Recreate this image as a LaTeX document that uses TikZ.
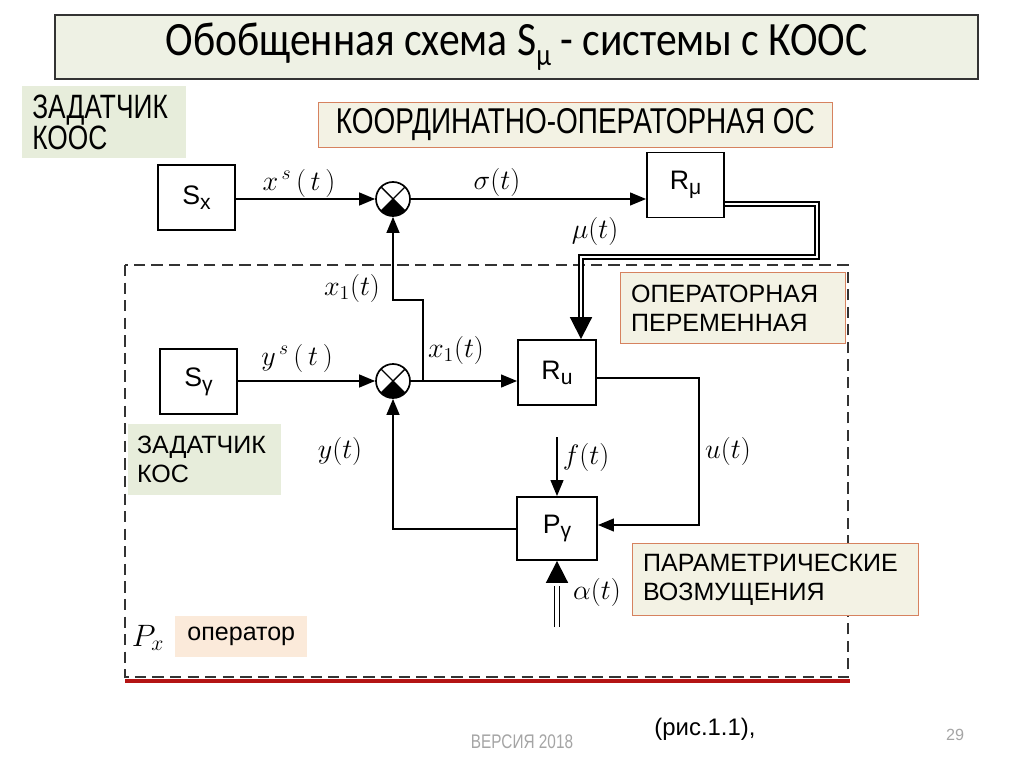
\documentclass[tikz,border=0pt]{standalone}
\usepackage{fix-cm}
\usepackage{fontspec}
\setmainfont{Liberation Sans}
\newfontfamily\titlefont[FakeStretch=0.87]{Carlito}
\newfontfamily\narrowfont[FakeStretch=0.78]{Liberation Sans}
\usetikzlibrary{arrows.meta}
\definecolor{sage}{RGB}{231,237,219}
\definecolor{titlefill}{RGB}{238,241,228}
\definecolor{creamfill}{RGB}{243,242,228}
\definecolor{peach}{RGB}{251,234,218}
\definecolor{boxedge}{RGB}{214,130,95}
\definecolor{redline}{RGB}{180,20,20}
\definecolor{footgray}{RGB}{165,165,165}
\tikzset{blk/.style = {draw, line width = 1.3pt, minimum width = 1.925cm, minimum height = 1.625cm, inner sep = 0, font = \fontsize{19}{22}\selectfont}}
\tikzset{sumjn/.style = {draw, circle, line width = 1.2pt, minimum size = 0.85cm, inner sep = 0,
  path picture = {
    \draw[line width = 1pt] (path picture bounding box.north west) -- (path picture bounding box.south east)
      (path picture bounding box.north east) -- (path picture bounding box.south west);
    \fill (path picture bounding box.center) -- (path picture bounding box.south east) -- (path picture bounding box.south west) -- cycle;}}}
\tikzset{sig/.style = {font = \fontsize{20}{24}\selectfont}}
\tikzset{wire/.style = {line width = 1.3pt}}
\tikzset{arr/.style = {wire, -{Triangle[length = 0.4cm, width = 0.32cm]}}}
\tikzset{bigarr/.style = {wire, -{Triangle[length = 0.55cm, width = 0.55cm]}}}
\tikzset{dbl/.style = {double, line width = 1.6pt, double distance = 1.4pt}}
\tikzset{dblthin/.style = {double, line width = 0.9pt, double distance = 3pt}}
\tikzset{notebox/.style = {anchor = north west, inner xsep = 0.27cm, inner ysep = 0, align = left, font = \fontsize{17.8}{20.6}\selectfont}}
\newcommand{\blksub}[1]{\raisebox{-0.35ex}{\fontsize{15}{15}\selectfont #1}}

\begin{document}
\begin{tikzpicture}[x = 0.025cm, y = -0.025cm]
      \useasboundingbox (0, 0) rectangle (1024, 767);
      \fill[white] (0, 0) rectangle (1024, 767);
      \node [draw = black!80, fill = titlefill, line width = 1.2pt, minimum width = 23.075cm, minimum height = 1.6cm,
        font = \titlefont\fontsize{34}{38}\selectfont] (title) at (516.5, 47)
        {Обобщенная схема S\raisebox{-0.45ex}{\fontsize{22}{22}\selectfont μ} - системы с КООС};

      \draw[redline, line width = 3.5pt] (125, 681) -- (850, 681);
      \draw[black!80, line width = 1.3pt, dash pattern = on 8pt off 4.5pt] (125, 265) rectangle (848, 677);

      \node [notebox, inner xsep = 0.25cm, fill = sage, text width = 3.6cm, minimum height = 1.8cm,
        font = \narrowfont\fontsize{24}{22}\selectfont] (zadkoos) at (22, 86) {ЗАДАТЧИК\\КООС};
      \node [anchor = north west, draw = boxedge, fill = creamfill, minimum width = 12.85cm, minimum height = 1.125cm, inner sep = 0,
        font = \narrowfont\fontsize{25.5}{27}\selectfont] (koos) at (318, 102) {КООРДИНАТНО-ОПЕРАТОРНАЯ ОС};
      \node [notebox, draw = boxedge, fill = creamfill, text width = 5.08cm, minimum height = 1.775cm] (opvar) at (620, 272) {ОПЕРАТОРНАЯ\\ПЕРЕМЕННАЯ};
      \node [notebox, inner xsep = 0.22cm, fill = sage, text width = 3.38cm, minimum height = 1.775cm] (zadkos) at (128, 424) {ЗАДАТЧИК\\КОС};
      \node [notebox, draw = boxedge, fill = creamfill, text width = 6.61cm, minimum height = 1.8cm] (param) at (632, 543) {ПАРАМЕТРИЧЕСКИЕ\\ВОЗМУЩЕНИЯ};
      \node [anchor = north west, fill = peach, minimum width = 3.3cm, minimum height = 1.025cm, inner sep = 0,
        font = \fontsize{17.8}{20}\selectfont] (oper) at (175, 616) {оператор};

      \node [blk] (Sx) at (196.5, 197.5) {S\blksub{x}};
      \node [blk] (Sy) at (198.5, 381.5) {S\blksub{γ}};
      \node [blk] (Rmu) at (685.5, 185) {R\blksub{μ}};
      \node [blk, minimum width = 1.95cm] (Ru) at (557, 372.5) {R\blksub{u}};
      \node [blk, minimum width = 2cm, minimum height = 1.575cm] (Py) at (557, 528.5) {P\blksub{γ}};
      \node [sumjn] (sumA) at (393, 199) {};
      \node [sumjn] (sumB) at (393, 381) {};

      \coordinate (dA) at (817, 204);
      \coordinate (dB) at (817, 257);
      \coordinate (dC) at (581, 257);
      \coordinate (dD) at (581, 320);
      \coordinate (brA) at (423, 381);
      \coordinate (brB) at (423, 300);
      \coordinate (brC) at (393, 300);
      \coordinate (uA) at (699, 378);
      \coordinate (uB) at (699, 525);
      \coordinate (yA) at (393, 529);
      \coordinate (fA) at (557, 437);
      \coordinate (aA) at (557, 627);
      \coordinate (aB) at (557, 586);

      \draw[arr] (Sx.east |- sumA) -- (sumA);
      \draw[arr] (sumA) -- (sumA -| Rmu.west);
      \draw[dbl] (Rmu.east |- dA) -- (dA) -- (dB) -- (dC) -- (dD);
      \draw[bigarr] (dD) -- (dD |- Ru.north);
      \draw[arr] (Sy.east |- sumB) -- (sumB);
      \draw[arr] (sumB) -- (sumB -| Ru.west);
      \draw[arr] (brA) -- (brB) -- (brC) -- (sumA);
      \draw[arr] (Ru.east |- uA) -- (uA) -- (uB) -- (uB -| Py.east);
      \draw[arr] (Py.west |- yA) -- (yA) -- (sumB);
      \draw[arr] (fA) -- (Py);
      \draw[dblthin] (aA) -- (aB);
      \draw[bigarr] ([yshift = 0.1cm] aB) -- (Py.south);

      \node [sig] (lxs) at (299, 183) {$x^{\,s}\,(\,t\,)$};
      \node [sig] (lsig) at (497, 182) {$\sigma(t)$};
      \node [sig] (lmu) at (595, 231) {$\mu(t)$};
      \node [sig] (lxa) at (352, 288) {$x_1(t)$};
      \node [sig] (lxb) at (456, 350) {$x_1(t)$};
      \node [sig] (lys) at (297, 358) {$y^{\,s}\,(\,t\,)$};
      \node [sig] (ly) at (340, 451) {$y(t)$};
      \node [sig] (lf) at (586, 457) {$f(t)$};
      \node [sig] (lu) at (728, 451) {$u(t)$};
      \node [sig] (lal) at (597, 592) {$\alpha(t)$};
      \node [sig, font = \fontsize{22}{24}\selectfont] (lpx) at (148, 638) {$P_x$};

      \node [font = \fontsize{17}{20}\selectfont] (fig) at (705, 729) {(рис.1.1),};
      \node [text = footgray, font = \narrowfont\fontsize{14}{16}\selectfont] (ver) at (522, 742) {ВЕРСИЯ 2018};
      \node [text = footgray, font = \fontsize{11.5}{13}\selectfont] (pg) at (955, 735) {29};
\end{tikzpicture}
\end{document}
